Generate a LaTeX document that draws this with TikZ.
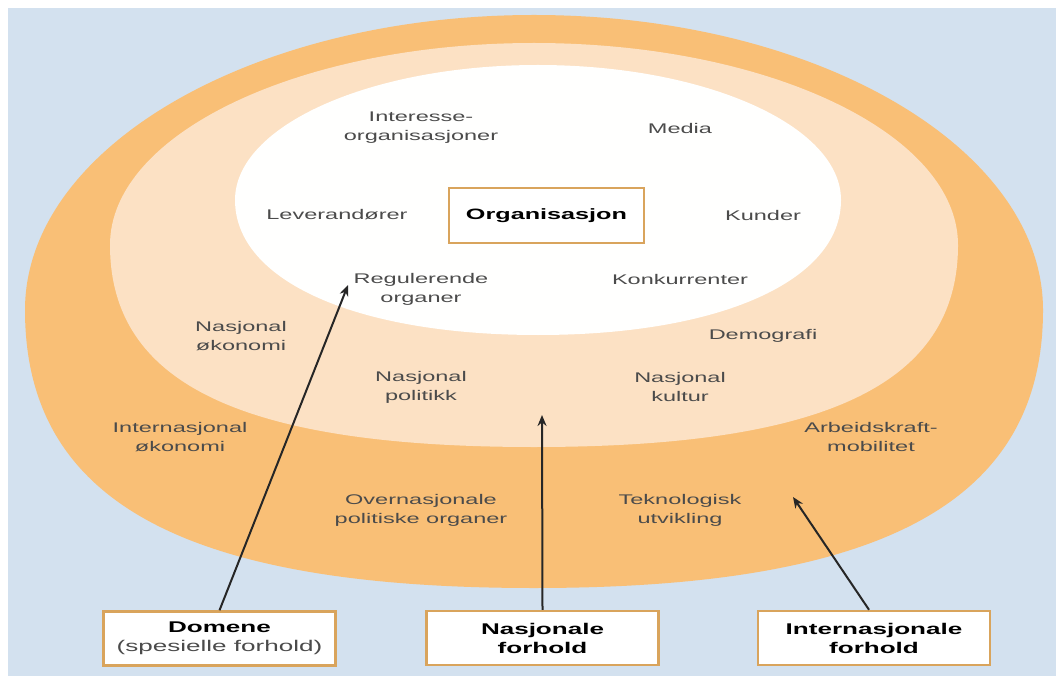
\documentclass[tikz,border=0pt]{standalone}
\usepackage{fontspec}
\setmainfont{Liberation Sans}[FakeStretch=1.68]
\usetikzlibrary{arrows.meta}
\definecolor{bgblue}{HTML}{D3E1EF}
\definecolor{outerorange}{HTML}{F9BF76}
\definecolor{midpeach}{HTML}{FCE1C4}
\definecolor{innerwhite}{HTML}{FFFFFE}
\definecolor{boxedge}{HTML}{D9A45C}
\definecolor{txtgray}{HTML}{4B4B4B}
\definecolor{arrowdark}{HTML}{262626}
\tikzset{
  lbl/.style={align=center, text=txtgray, font=\fontsize{14}{19}\selectfont, inner sep=0pt},
  frame/.style={draw=boxedge, line width=2.5pt, fill=white, align=center,
    minimum width=232pt, minimum height=54pt, inner sep=0pt,
    font=\fontsize{15.5}{19}\selectfont},
  orgbox/.style={draw=boxedge, line width=2.5pt, fill=white,
    minimum width=195pt, minimum height=55pt, inner sep=0pt,
    font=\bfseries\fontsize{15}{19}\selectfont},
  pointer/.style={draw=arrowdark, line width=2pt, -{Stealth[length=11pt,width=9pt]}}
}
\begin{document}
\begin{tikzpicture}[x=1pt,y=-1pt]
\useasboundingbox (0,0) rectangle (1056,684);
\fill[white] (0,0) rectangle (1056,684);
\fill[bgblue] (8,8) rectangle (1056,676);
% outer ring: international conditions
\fill[outerorange] (1043,310) .. controls (1043,147.2) and (815,15) .. (534,15)
  .. controls (253,15) and (25,147.2) .. (25,310)
  .. controls (25,501.3) and (183.8,588) .. (534,588)
  .. controls (884.2,588) and (1043,501.3) .. (1043,310) -- cycle;
% middle ring: national conditions
\fill[midpeach] (958,245) .. controls (958,133.5) and (768,43) .. (534,43)
  .. controls (300,43) and (110,133.5) .. (110,245)
  .. controls (110,384) and (242.3,447) .. (534,447)
  .. controls (825.7,447) and (958,384) .. (958,245) -- cycle;
% inner: domain
\fill[innerwhite] (841,200) .. controls (841,125.5) and (705.3,65) .. (538,65)
  .. controls (370.7,65) and (235,125.5) .. (235,200)
  .. controls (235,281) and (356.2,335) .. (538,335)
  .. controls (719.8,335) and (841,281) .. (841,200) -- cycle;
% centre
\node[orgbox] (org) at (546.5,215.5) {Organisasjon};
% domain labels
\node[lbl] (int) at (421,128) {Interesse-\\organisasjoner};
\node[lbl] (media) at (680,128) {Media};
\node[lbl] (lev) at (337,215) {Leverandører};
\node[lbl] (kund) at (763,215) {Kunder};
\node[lbl] (reg) at (421,289) {Regulerende\\organer};
\node[lbl] (konk) at (680,279) {Konkurrenter};
% national labels
\node[lbl] (nok) at (241,336) {Nasjonal\\økonomi};
\node[lbl] (demo) at (763,336) {Demografi};
\node[lbl] (npol) at (421,387) {Nasjonal\\politikk};
\node[lbl] (nkul) at (680,387) {Nasjonal\\kultur};
% international labels
\node[lbl] (iok) at (180,437) {Internasjonal\\økonomi};
\node[lbl] (arb) at (871,437) {Arbeidskraft-\\mobilitet};
\node[lbl] (over) at (421,510) {Overnasjonale\\politiske organer};
\node[lbl] (tek) at (680,510) {Teknologisk\\utvikling};
% bottom boxes
\node[frame] (dom) at (219.5,638.5) {\textbf{Domene}\\\textcolor{txtgray}{(spesielle forhold)}};
\node[frame] (nas) at (542.5,638) {\textbf{Nasjonale}\\\textbf{forhold}};
\node[frame] (inter) at (874,638) {\textbf{Internasjonale}\\\textbf{forhold}};
% arrow tips
\coordinate (tipdom) at (348,285);
\coordinate (tipnas) at (542,415);
\coordinate (tipint) at (793,497);
\draw[pointer] (dom.north) -- (tipdom);
\draw[pointer] (nas.north) -- (tipnas);
\draw[pointer] ([xshift=-5pt]inter.north) -- (tipint);
\end{tikzpicture}
\end{document}
